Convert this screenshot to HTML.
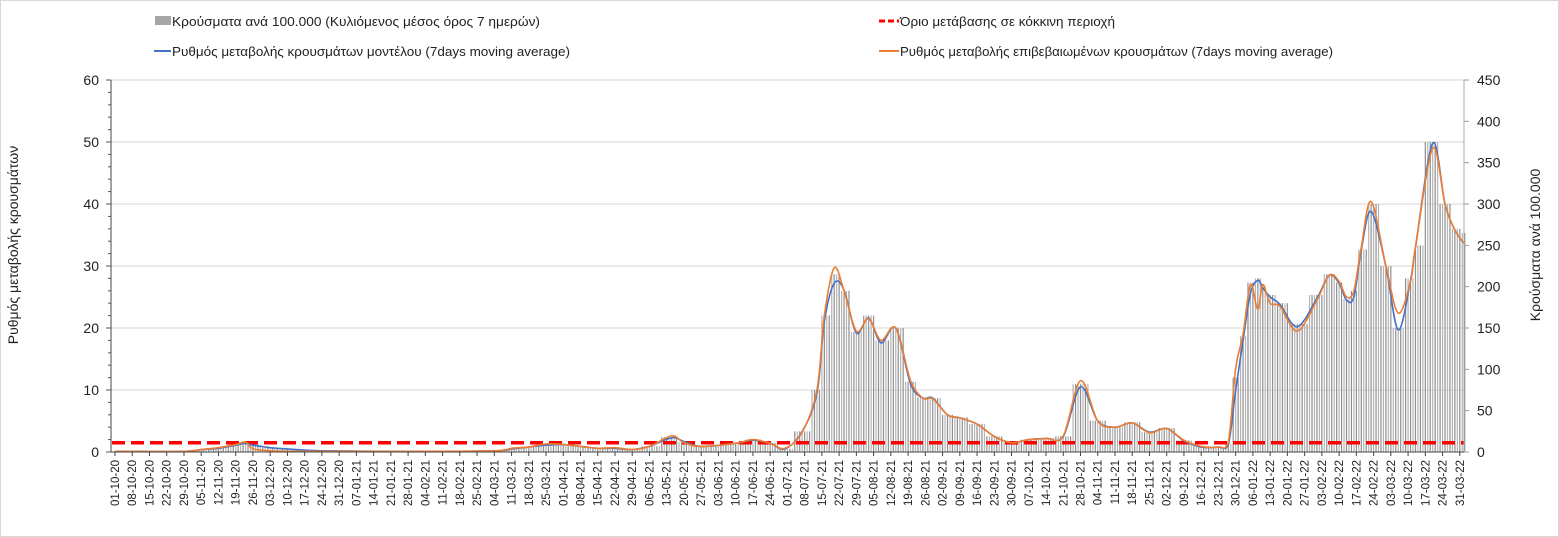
<!DOCTYPE html>
<html><head><meta charset="utf-8"><style>
html,body{margin:0;padding:0;background:#fff;}
svg{display:block;font-family:"Liberation Sans",sans-serif;}
</style></head><body>
<svg id="chart" width="1559" height="537" viewBox="0 0 1559 537">
<rect x="0.5" y="0.5" width="1558" height="536" fill="#fff" stroke="#d9d9d9"/>
<g id="grid"></g><g id="bars"></g><g id="lines"></g><g id="axes"></g>
<g>
 <g><rect x="155" y="16" width="16" height="9" fill="#a6a6a6"/><text x="172" y="26" font-size="13" fill="#222" textLength="368" lengthAdjust="spacingAndGlyphs">Κρούσματα ανά 100.000 (Κυλιόμενος μέσος όρος 7 ημερών)</text></g>
 <g><line x1="154" y1="51" x2="171" y2="51" stroke="#4472c4" stroke-width="2"/><text x="172" y="56" font-size="13" fill="#222" textLength="398" lengthAdjust="spacingAndGlyphs">Ρυθμός μεταβολής κρουσμάτων μοντέλου (7days moving average)</text></g>
 <g><line x1="879" y1="21" x2="899" y2="21" stroke="#ff0000" stroke-width="3" stroke-dasharray="6,3"/><text x="900" y="26" font-size="13" fill="#222" textLength="215" lengthAdjust="spacingAndGlyphs">Όριο μετάβασης σε κόκκινη περιοχή</text></g>
 <g><line x1="879" y1="51" x2="899" y2="51" stroke="#ed7d31" stroke-width="2"/><text x="900" y="56" font-size="13" fill="#222" textLength="433" lengthAdjust="spacingAndGlyphs">Ρυθμός μεταβολής επιβεβαιωμένων κρουσμάτων (7days moving average)</text></g>
</g>
<text transform="translate(18,245) rotate(-90)" text-anchor="middle" font-size="14" fill="#222">Ρυθμός μεταβολής κρουσμάτων</text>
<text transform="translate(1540,245) rotate(-90)" text-anchor="middle" font-size="14" fill="#222">Κρούσματα ανά 100.000</text>
</svg>
<script>
const keyDays = [0,28,35,42,49,53,56,63,70,84,119,154,161,168,175,182,189,196,203,210,217,226,231,238,252,259,266,272,279,285,288,292,296,301,306,311,317,323,328,332,338,343,350,357,364,371,378,385,392,399,406,413,420,427,434,441,448,452,455,458,461,464,466,469,473,480,488,493,497,500,503,506,510,516,521,526,528,535,540,544,548];
const modelRate = [0.1,0.1,0.4,0.6,1.1,1.4,1.1,0.7,0.5,0.2,0.1,0.2,0.5,0.8,1.1,1.2,0.9,0.6,0.6,0.4,0.9,2.3,1.7,0.9,1.4,1.9,1.4,0.5,3.3,9.5,21,27.2,26.1,19.2,21.6,17.6,20,11,8.7,8.7,6,5.5,4.5,2.5,1.5,2,2.2,2.5,10.5,5,4,4.7,3.2,3.8,1.8,0.8,0.8,1.2,10,18,25.6,27.7,26.5,25,23.8,20.2,24.8,28.5,27.2,24.5,25,32.6,38.8,29.9,19.7,27.7,33,49.8,40,35.8,33.5];
const confirmedRate = [0.1,0.1,0.4,0.7,1.2,1.6,0.5,0.2,0.1,0.1,0.1,0.2,0.6,0.8,1.3,1.2,0.9,0.6,0.7,0.4,0.9,2.6,1.5,0.9,1.4,2.0,1.4,0.6,3.2,10,22,29.7,26,19.5,21.5,18,20,11.5,8.7,8.6,6,5.5,4.5,2.5,1.5,2,2.2,2.6,11.5,5,4,4.7,3.1,3.8,1.9,0.9,0.8,1.6,13.5,19,27,23,27,24,23.5,19.5,24.5,28.5,27.5,25,26,33,40.4,30,22.4,27.5,33,49,40,35.8,33.5];
const casesPer100k = [1,1,3,5,9,13,9,5,3,1,1,2,4,6,9,9,7,5,5,3,7,18,12,7,11,15,11,4,25,75,165,215,195,145,165,135,150,85,66,65,45,42,34,19,12,15,17,19,82,38,30,36,24,29,14,7,6,10,90,140,205,210,200,190,180,155,190,215,205,185,195,245,300,225,150,210,250,375,300,270,265];
const leftTicks = [0,10,20,30,40,50,60];
const rightTicks = [0,50,100,150,200,250,300,350,400,450];
const thresholdRate = 1.5;
const startDate = [2020,10,1];
const nWeeks = 79;

const X0=115, PX=2.463, Y0=452, H=372, LMAX=60, RMAX=450, XL=111, XR=1464;
const xs = d => X0 + PX*d;
const yl = v => Y0 - v/LMAX*H;
const yr = v => Y0 - v/RMAX*H;
const NS="http://www.w3.org/2000/svg";
function mk(tag, attrs, parent){const e=document.createElementNS(NS,tag);for(const k in attrs)e.setAttribute(k,attrs[k]);parent.appendChild(e);return e;}
const grid=document.getElementById('grid'), bars=document.getElementById('bars'), lines=document.getElementById('lines'), axes=document.getElementById('axes');

leftTicks.forEach(t=>{ if(t>0){const g=mk('line',{x1:XL,x2:XR,y1:yl(t),y2:yl(t),stroke:'#e3e3e3','stroke-width':1.5},grid);

}
 const tx=mk('text',{x:99,y:yl(t)+5,'text-anchor':'end','font-size':14,fill:'#222'},axes); tx.textContent=t;
 
 
 mk('line',{x1:XL-5,x2:XL,y1:yl(t),y2:yl(t),stroke:'#555'},axes);
});
for(let v=0;v<=LMAX;v+=2) mk('line',{x1:XL-3,x2:XL,y1:yl(v),y2:yl(v),stroke:'#555'},axes);
rightTicks.forEach(t=>{
 const tx=mk('text',{x:1477,y:yr(t)+5,'font-size':14,fill:'#222'},axes); tx.textContent=t;
 
 
 mk('line',{x1:XR,x2:XR+5,y1:yr(t),y2:yr(t),stroke:'#999'},axes);
});
mk('line',{x1:XL,x2:XL,y1:80,y2:Y0,stroke:'#444'},axes);
mk('line',{x1:XR,x2:XR,y1:80,y2:Y0,stroke:'#aaa'},axes);
mk('line',{x1:XL,x2:XR,y1:Y0,y2:Y0,stroke:'#444'},axes);

const lastDay = keyDays[keyDays.length-1];
for(let d=0; d<=lastDay; d++){
 let bi=0, bd=1e9;
 keyDays.forEach((k,i)=>{const dd=Math.abs(k-d); if(dd<bd){bd=dd;bi=i;}});
 const v=casesPer100k[bi]; if(v<=0) continue;
 const b=mk('rect',{x:xs(d)-0.6,y:yr(v),width:1.2,height:Y0-yr(v),fill:(d%2?'#b5b5b5':'#8f8f8f')},bars);
 
 
}

const th=mk('line',{x1:XL+1,x2:XR,y1:yl(thresholdRate),y2:yl(thresholdRate),stroke:'#ff0000','stroke-width':3.5,'stroke-dasharray':'13,6'},lines);



function smoothPath(vals){
 const p=keyDays.map((d,i)=>[xs(d),yl(vals[i])]);
 let s=`M${p[0][0]},${p[0][1]}`;
 for(let i=0;i<p.length-1;i++){
  const a=p[Math.max(0,i-1)],b=p[i],c=p[i+1],e=p[Math.min(p.length-1,i+2)];
  const c1=[b[0]+(c[0]-a[0])/6,b[1]+(c[1]-a[1])/6], c2=[c[0]-(e[0]-b[0])/6,c[1]-(e[1]-b[1])/6];
  c1[1]=Math.min(Y0,c1[1]); c2[1]=Math.min(Y0,c2[1]);
  s+=` C${c1[0]},${c1[1]} ${c2[0]},${c2[1]} ${c[0]},${c[1]}`;
 }
 return s;
}
const lm=mk('path',{d:smoothPath(modelRate),fill:'none',stroke:'#4472c4','stroke-width':1.6},lines);


const lc=mk('path',{d:smoothPath(confirmedRate),fill:'none',stroke:'#ed7d31','stroke-width':1.6},lines);



const base=new Date(startDate[0],startDate[1]-1,startDate[2]);
for(let w=0; w<nWeeks; w++){
 const dt=new Date(base.getTime()); dt.setDate(base.getDate()+7*w);
 const lab=String(dt.getDate()).padStart(2,'0')+'-'+String(dt.getMonth()+1).padStart(2,'0')+'-'+String(dt.getFullYear()%100).padStart(2,'0');
 const x=xs(7*w);
 mk('line',{x1:x,x2:x,y1:Y0,y2:Y0+4,stroke:'#444'},axes);
 const t=mk('text',{transform:`translate(${x+4},${Y0+8}) rotate(-90)`,'text-anchor':'end','font-size':11.5,fill:'#222'},axes);
 t.textContent=lab;
 
 
}
</script>
</body></html>
